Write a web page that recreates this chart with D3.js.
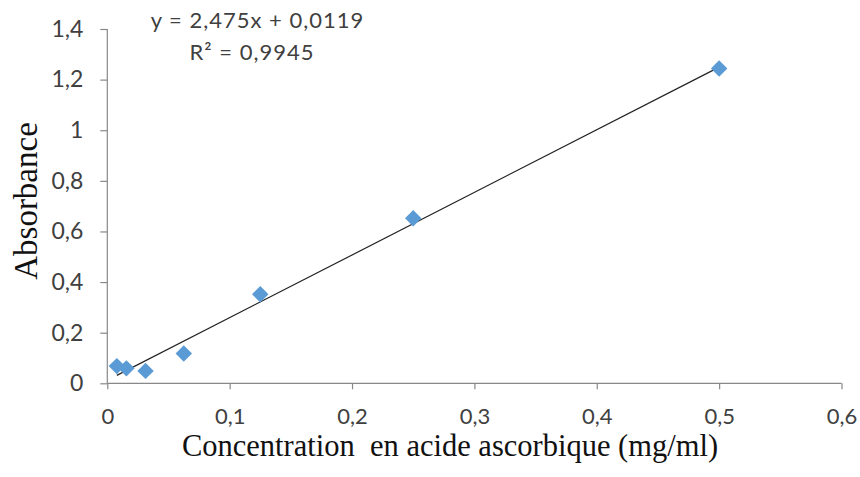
<!DOCTYPE html>
<html><head><meta charset="utf-8">
<script src="https://cdn.jsdelivr.net/npm/d3@7"></script>
<style>body{margin:0;background:#fff}svg{display:block}</style>
</head><body>
<script>
const concentrations = [0.0078, 0.0156, 0.03125, 0.0625, 0.125, 0.25, 0.5];
const absorbances = [0.068, 0.059, 0.049, 0.118, 0.352, 0.652, 1.244];
const slope = 2.475, intercept = 0.0119;
const xTicks = [0, 0.1, 0.2, 0.3, 0.4, 0.5, 0.6];
const yTicks = [0, 0.2, 0.4, 0.6, 0.8, 1, 1.2, 1.4];
const eqLabel = "y = 2,475x + 0,0119";
const r2Label = "R² = 0,9945";
const xTitle = "Concentration\u00a0 en acide ascorbique (mg/ml)";
const yTitle = "Absorbance";

const W = 860, H = 477;
const svg = d3.select("body").append("svg").attr("width", W).attr("height", H);
const x = d3.scaleLinear().domain([0, 0.6]).range([107.3, 841.5]);
const y = d3.scaleLinear().domain([0, 1.4]).range([383.3, 29]);
const fmt = d => String(d).replace(".", ",");
const axisColor = "#888";
const tickFont = "Lato, 'Open Sans', sans-serif";
const serif = "'Liberation Serif', 'Times New Roman', serif";

const gx = svg.append("g").attr("transform", `translate(0,${y(0)})`)
  .call(d3.axisBottom(x).tickValues(xTicks).tickFormat(fmt).tickSize(6).tickPadding(19));
const gy = svg.append("g").attr("transform", `translate(${x(0)},0)`)
  .call(d3.axisLeft(y).tickValues(yTicks).tickFormat(fmt).tickSize(7).tickPadding(17));
[gx, gy].forEach(g => {
  g.select(".domain").attr("stroke", axisColor).attr("stroke-width", 1.2);
  g.selectAll(".tick line").attr("stroke", axisColor).attr("stroke-width", 1.2);
  g.selectAll("text").attr("fill", "#404040").attr("font-size", 22).attr("font-family", tickFont);
});
gy.selectAll("text").attr("font-size", 23);
gx.select(".domain").attr("d", `M${x(0)},0H${x(0.6)}`);
gy.select(".domain").attr("d", `M0,${y(1.4)}V${y(0)}`);

// trend line
const xs = [d3.min(concentrations), d3.max(concentrations)];
svg.append("line")
  .attr("x1", x(xs[0])).attr("y1", y(slope * xs[0] + intercept))
  .attr("x2", x(xs[1])).attr("y2", y(slope * xs[1] + intercept))
  .attr("stroke", "#222").attr("stroke-width", 1.2);

// markers
const diamond = d3.symbol().type(d3.symbolSquare).size(135);
svg.append("g").selectAll("path").data(concentrations.map((c, i) => [c, absorbances[i]]))
  .join("path")
  .attr("d", diamond)
  .attr("transform", d => `translate(${x(d[0])},${y(d[1])}) rotate(45)`)
  .attr("fill", "#5b9bd5");

// equation
svg.append("text").attr("x", 257.5).attr("y", 28).attr("text-anchor", "middle")
  .attr("font-family", tickFont).attr("font-size", 22).attr("letter-spacing", 1)
  .attr("fill", "#404040").text(eqLabel);
svg.append("text").attr("x", 252).attr("y", 60).attr("text-anchor", "middle")
  .attr("font-family", tickFont).attr("font-size", 22).attr("letter-spacing", 1)
  .attr("fill", "#404040").text(r2Label);

// titles
svg.append("text").attr("x", 450).attr("y", 456).attr("text-anchor", "middle")
  .attr("font-family", serif).attr("font-size", 30.5)
  .attr("fill", "#111").text(xTitle);
svg.append("text").attr("transform", "translate(37,201) rotate(-90)").attr("text-anchor", "middle")
  .attr("font-family", serif).attr("font-size", 33)
  .attr("fill", "#111").text(yTitle);
</script>
</body></html>
